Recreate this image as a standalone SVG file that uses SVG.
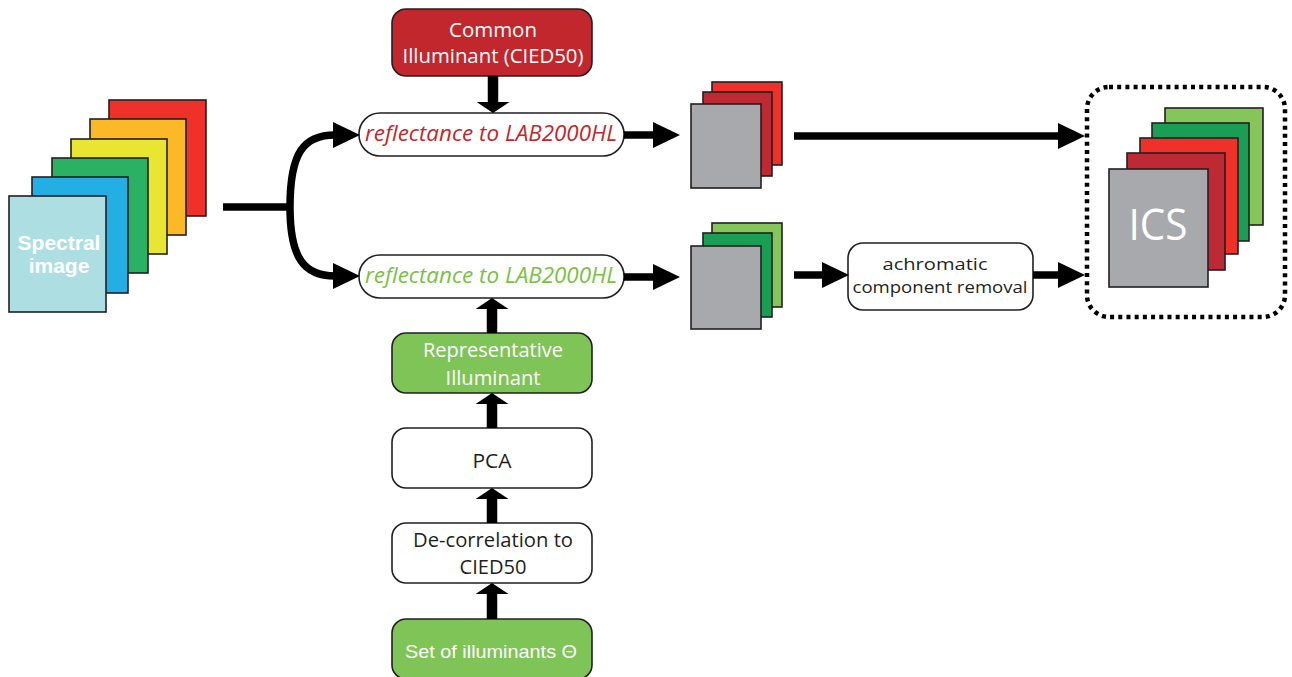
<svg xmlns="http://www.w3.org/2000/svg" width="1292" height="677" viewBox="0 0 1292 677">
  <defs>
    <style>
      .sheet { stroke: #231f20; stroke-width: 1.6; }
      .box { stroke: #231f20; stroke-width: 1.6; }
      .white { fill: #ffffff; }
      .redbox { fill: #c1272d; }
      .greenbox { fill: #7fc457; }
      .gray { fill: #a7a9ac; }
      .lbl { font-family: "Open Sans", "Noto Sans", sans-serif; text-anchor: middle; }
      .lblw { fill: #ffffff; }
      .lblk { fill: #231f20; }
      .hconn { fill: none; stroke: #000000; stroke-width: 7.5; }
      .vconn { fill: none; stroke: #000000; stroke-width: 10.5; }
    </style>
    <marker id="headH" markerUnits="userSpaceOnUse" viewBox="0 0 27 26" refX="2" refY="13" markerWidth="27" markerHeight="26" orient="auto">
      <path d="M0 0 L27 13 L0 26 Z" fill="#000000"/>
    </marker>
    <marker id="headV" markerUnits="userSpaceOnUse" viewBox="0 0 11 33" refX="1.5" refY="16.5" markerWidth="11" markerHeight="33" orient="auto">
      <path d="M0 0 L11 16.5 L0 33 Z" fill="#000000"/>
    </marker>
  </defs>

  <rect width="1292" height="677" fill="#ffffff"/>

  <!-- spectral image: stack of band sheets -->
  <g id="spectral-image">
    <rect class="sheet" x="109" y="100" width="97" height="116" fill="#ee3129"/>
    <rect class="sheet" x="90" y="119" width="96" height="116" fill="#fbb927"/>
    <rect class="sheet" x="71" y="139" width="96" height="115" fill="#e9e631"/>
    <rect class="sheet" x="52" y="158" width="96" height="115" fill="#2bb164"/>
    <rect class="sheet" x="32" y="177" width="96" height="116" fill="#23aee4"/>
    <rect class="sheet" x="9" y="196" width="97" height="116" fill="#addfe2"/>
    <text x="59" y="250" font-family="'Liberation Sans', Arial, sans-serif" font-weight="bold" font-size="21" fill="#ffffff" text-anchor="middle">Spectral</text>
    <text x="59" y="273" font-family="'Liberation Sans', Arial, sans-serif" font-weight="bold" font-size="21" fill="#ffffff" text-anchor="middle">image</text>
  </g>

  <g id="common-illuminant">
    <rect class="box redbox" x="392" y="9" width="200" height="67" rx="14"/>
    <text class="lbl lblw" x="493" y="37" font-size="19.5" textLength="88" lengthAdjust="spacingAndGlyphs">Common</text>
    <text class="lbl lblw" x="493" y="63" font-size="19.5" textLength="181" lengthAdjust="spacingAndGlyphs">Illuminant (CIED50)</text>
  </g>

  <g id="reflectance-common">
    <rect class="box white" x="359" y="113" width="265" height="43" rx="21"/>
    <text class="lbl" x="491" y="141" font-size="21.5" font-style="italic" fill="#c1272d" textLength="252" lengthAdjust="spacingAndGlyphs">reflectance to LAB2000HL</text>
  </g>

  <g id="reflectance-representative">
    <rect class="box white" x="359" y="255" width="265" height="43" rx="21"/>
    <text class="lbl" x="491" y="283" font-size="21.5" font-style="italic" fill="#7ac143" textLength="252" lengthAdjust="spacingAndGlyphs">reflectance to LAB2000HL</text>
  </g>

  <g id="representative-illuminant">
    <rect class="box greenbox" x="392" y="333" width="200" height="60" rx="14"/>
    <text class="lbl lblw" x="493" y="357" font-size="19.5" textLength="140" lengthAdjust="spacingAndGlyphs">Representative</text>
    <text class="lbl lblw" x="493" y="385" font-size="19.5" textLength="95" lengthAdjust="spacingAndGlyphs">Illuminant</text>
  </g>

  <g id="pca">
    <rect class="box white" x="392" y="428" width="200" height="60" rx="14"/>
    <text class="lbl lblk" x="492" y="468" font-size="19.5" textLength="39" lengthAdjust="spacingAndGlyphs">PCA</text>
  </g>

  <g id="decorrelation">
    <rect class="box white" x="392" y="523" width="200" height="60" rx="14"/>
    <text class="lbl lblk" x="493" y="547" font-size="19.5" textLength="160" lengthAdjust="spacingAndGlyphs">De-correlation to</text>
    <text class="lbl lblk" x="493" y="574" font-size="19.5" textLength="67" lengthAdjust="spacingAndGlyphs">CIED50</text>
  </g>

  <g id="illuminant-set">
    <rect class="box greenbox" x="392" y="619" width="200" height="60" rx="14"/>
    <text x="491" y="658" font-family="'Liberation Sans', Arial, sans-serif" font-size="19" fill="#ffffff" text-anchor="middle" textLength="172" lengthAdjust="spacingAndGlyphs">Set of illuminants Θ</text>
  </g>

  <!-- LAB stack from the common illuminant -->
  <g id="lab-common">
    <rect class="sheet" x="712" y="82" width="70" height="83" fill="#ee3129"/>
    <rect class="sheet" x="703" y="92" width="69" height="84" fill="#be2a33"/>
    <rect class="sheet gray" x="691" y="104" width="70" height="84"/>
  </g>

  <!-- LAB stack from the representative illuminant -->
  <g id="lab-representative">
    <rect class="sheet" x="712" y="223" width="70" height="84" fill="#85c65a"/>
    <rect class="sheet" x="703" y="233" width="69" height="84" fill="#1a9e55"/>
    <rect class="sheet gray" x="691" y="246" width="70" height="83"/>
  </g>

  <g id="achromatic-removal">
    <rect class="box white" x="848" y="243" width="185" height="67" rx="15"/>
    <text class="lbl lblk" x="935" y="270" font-size="16" textLength="105" lengthAdjust="spacingAndGlyphs">achromatic</text>
    <text class="lbl lblk" x="940" y="293" font-size="16" textLength="175" lengthAdjust="spacingAndGlyphs">component removal</text>
  </g>

  <g id="ics">
    <rect x="1087" y="87" width="198" height="230" rx="22" fill="none" stroke="#000000" stroke-width="4.5" stroke-dasharray="4 4.2"/>
    <rect class="sheet" x="1165" y="108" width="98" height="117" fill="#85c65a"/>
    <rect class="sheet" x="1152" y="123" width="97" height="118" fill="#1a9e55"/>
    <rect class="sheet" x="1140" y="138" width="98" height="116" fill="#ee3129"/>
    <rect class="sheet" x="1127" y="153" width="98" height="117" fill="#be2a33"/>
    <rect class="sheet gray" x="1109" y="169" width="99" height="118"/>
    <text class="lbl lblw" x="1158" y="240" font-size="44" textLength="59" lengthAdjust="spacingAndGlyphs">ICS</text>
  </g>

  <g id="connectors">
    <!-- split from the spectral image into both branches -->
    <path class="hconn" d="M223 207 H292"/>
    <path class="hconn" d="M290 207 C290 152 304 135 335 135" marker-end="url(#headH)"/>
    <path class="hconn" d="M290 207 C290 258 304 276 335 276" marker-end="url(#headH)"/>
    <!-- branch outputs -->
    <path class="hconn" d="M624 135 H655" marker-end="url(#headH)"/>
    <path class="hconn" d="M624 277 H655" marker-end="url(#headH)"/>
    <path class="hconn" d="M794 136 H1060" marker-end="url(#headH)"/>
    <path class="hconn" d="M794 275 H824" marker-end="url(#headH)"/>
    <path class="hconn" d="M1033 275 H1060" marker-end="url(#headH)"/>
    <!-- vertical feeds -->
    <path class="vconn" d="M493 76 V103.5" marker-end="url(#headV)"/>
    <path class="vconn" d="M492 333 V307.5" marker-end="url(#headV)"/>
    <path class="vconn" d="M492 428 V402.5" marker-end="url(#headV)"/>
    <path class="vconn" d="M492 523 V497.5" marker-end="url(#headV)"/>
    <path class="vconn" d="M492 619 V592.5" marker-end="url(#headV)"/>
  </g>
</svg>
